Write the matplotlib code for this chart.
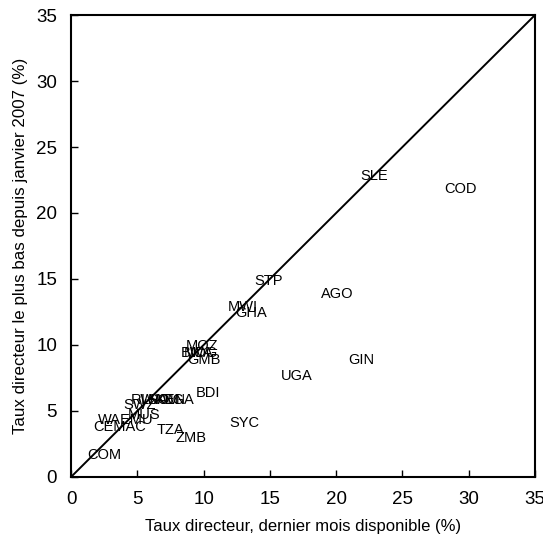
"""Policy rates: latest month vs lowest since January 2007."""

from __future__ import annotations

import matplotlib

matplotlib.use("Agg")
import matplotlib.pyplot as plt


codes = [
    "SLE", "COD", "STP", "AGO", "MWI", "GHA", "GIN", "UGA",
    "MOZ", "BWA", "MDG", "GMB", "BDI", "SYC", "ZMB", "TZA",
    "RWA", "LSO", "NAM", "KEN", "NGA", "SWZ", "MUS",
    "WAEMU", "CEMAC", "COM",
]
latest_rate = [
    22.9, 29.4, 14.9, 20.1, 12.95, 13.6, 21.9, 17.05,
    9.9, 9.5, 9.8, 10.0, 10.3, 13.1, 9.05, 7.5,
    5.8, 6.4, 7.0, 7.55, 8.15, 5.2, 5.5,
    4.1, 3.7, 2.5,
]
lowest_rate = [
    22.8, 21.8, 14.85, 13.9, 12.9, 12.4, 8.9, 7.65,
    9.9, 9.4, 9.4, 8.85, 6.35, 4.1, 2.95, 3.55,
    5.83, 5.83, 5.83, 5.83, 5.8, 5.45, 4.7,
    4.3, 3.8, 1.67,
]
ticks = [0, 5, 10, 15, 20, 25, 30, 35]


def main() -> int:
    plt.rcParams["font.family"] = ["Liberation Sans", "DejaVu Sans"]
    fig = plt.figure(figsize=(5.43, 5.48), dpi=100)
    ax = fig.add_axes([0.1308, 0.1296, 0.8545, 0.843])

    ax.plot([0, 35], [0, 35], color="black", lw=1.4)
    for code, x, y in zip(codes, latest_rate, lowest_rate):
        ax.text(x, y, code, ha="center", va="center", fontsize=10.5, color="black")

    ax.set_xlim(0, 35)
    ax.set_ylim(0, 35)
    ax.set_xticks(ticks)
    ax.set_yticks(ticks)
    ax.tick_params(direction="in", length=5, width=1, labelsize=13.5, pad=10)
    for side in ax.spines.values():
        side.set_linewidth(1.5)

    ax.set_xlabel("Taux directeur, dernier mois disponible (%)", fontsize=12, labelpad=8)
    ax.set_ylabel("Taux directeur le plus bas depuis janvier 2007 (%)", fontsize=12.2, labelpad=6)

    fig.savefig("out.png", dpi=100)
    plt.close(fig)
    return 0


if __name__ == "__main__":
    raise SystemExit(main())
